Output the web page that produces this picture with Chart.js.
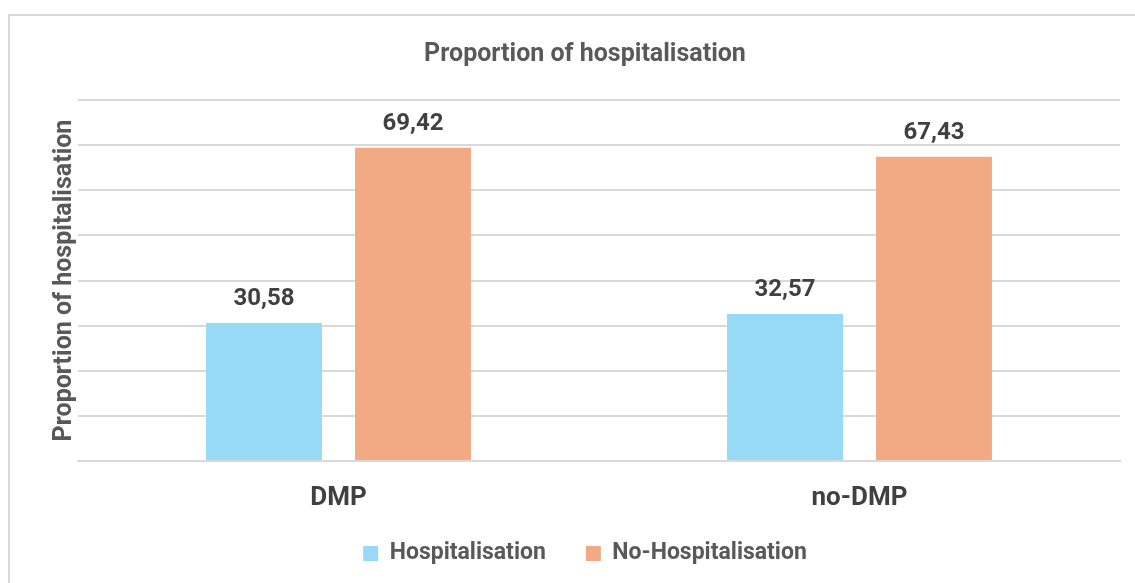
<!DOCTYPE html>
<html>
<head>
<meta charset="utf-8">
<script src="https://cdn.jsdelivr.net/npm/chart.js@4"></script>
<style>
  html, body { margin: 0; padding: 0; background: #fff; }
  #frame {
    position: absolute; left: 8px; top: 14px;
    width: 1140px; height: 600px;
    border: 2px solid #d9d9d9;
  }
  #wrap { position: absolute; left: 0; top: 0; width: 1135px; height: 583px; }
</style>
</head>
<body>
<div id="frame"></div>
<div id="wrap"><canvas id="chart" width="1135" height="583"></canvas></div>
<script>
const categories = ["DMP", "no-DMP"];
const hospitalisation = [30.58, 32.57];
const noHospitalisation = [69.42, 67.43];
const seriesNames = ["Hospitalisation", "No-Hospitalisation"];

const FONT = "'Liberation Sans Narrow', 'Arial Narrow', Roboto, sans-serif";

// values above bars (comma decimal) + category names under the axis
const labelsPlugin = {
  id: "labelsPlugin",
  afterDatasetsDraw(chart) {
    const ctx = chart.ctx;
    ctx.save();
    ctx.textAlign = "center";
    ctx.fillStyle = "#404040";

    ctx.font = "bold 24px " + FONT;
    ctx.textBaseline = "bottom";
    chart.data.datasets.forEach((ds, i) => {
      chart.getDatasetMeta(i).data.forEach((bar, j) => {
        const txt = ds.data[j].toFixed(2).replace(".", ",");
        ctx.fillText(txt, bar.x, bar.y - 12);
      });
    });

    const xs = chart.scales.x;
    ctx.font = "bold 26px " + FONT;
    ctx.textBaseline = "middle";
    chart.data.labels.forEach((lab, i) => {
      ctx.fillText(lab, xs.getPixelForTick(i), xs.top + 37);
    });
    ctx.restore();
  },
};

new Chart(document.getElementById("chart"), {
  type: "bar",
  data: {
    labels: categories,
    datasets: [
      { label: seriesNames[0], data: hospitalisation, backgroundColor: "#97d9f7" },
      { label: seriesNames[1], data: noHospitalisation, backgroundColor: "#f2aa84" },
    ],
  },
  options: {
    responsive: false,
    animation: false,
    layout: { padding: { left: 50, right: 15, top: 0, bottom: 8 } },
    datasets: { bar: { categoryPercentage: 0.572, barPercentage: 0.778 } },
    plugins: {
      title: {
        display: true,
        text: "Proportion of hospitalisation",
        color: "#595959",
        font: { family: FONT, size: 25, weight: "bold" },
        padding: { top: 40, bottom: 30 },
      },
      legend: {
        position: "bottom",
        labels: {
          color: "#595959",
          font: { family: FONT, size: 23, weight: "bold" },
          boxWidth: 15,
          boxHeight: 15,
          padding: 40,
        },
      },
      tooltip: { enabled: false },
    },
    scales: {
      x: {
        grid: { display: false },
        border: { color: "#d9d9d9", width: 2 },
        ticks: { display: false },
        afterFit(scale) { scale.height = 41; },
      },
      y: {
        min: 0,
        max: 80,
        ticks: { stepSize: 10, display: false },
        grid: { color: "#d9d9d9", lineWidth: 2, drawTicks: false },
        border: { display: false },
        title: {
          display: true,
          text: "Proportion of hospitalisation",
          color: "#595959",
          font: { family: FONT, size: 25, weight: "bold" },
          padding: 0,
        },
        afterFit(scale) { scale.width = 28; },
      },
    },
  },
  plugins: [labelsPlugin],
});
</script>
</body>
</html>
